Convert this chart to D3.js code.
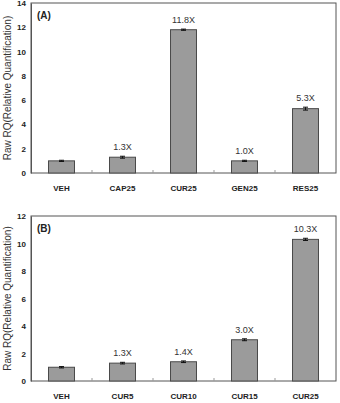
<!DOCTYPE html>
<html>
<head>
<meta charset="utf-8">
<script src="https://cdn.jsdelivr.net/npm/d3@7"></script>
<style>
  body { margin: 0; background: #fff; }
  svg { display: block; }
  .tick text { font-family: Arial, "Liberation Sans", sans-serif; font-weight: bold; font-size: 8px; fill: #222; }
  .cat { font-family: "Liberation Sans Narrow", "Arial Narrow", Arial, sans-serif; font-weight: bold; font-size: 8px; fill: #222; }
  .val { font-family: Arial, "Liberation Sans", sans-serif; font-size: 9px; fill: #333; }
  .ylab { font-family: Arial, "Liberation Sans", sans-serif; font-size: 10px; fill: #333; }
  .plabel { font-family: Arial, "Liberation Sans", sans-serif; font-weight: bold; font-size: 10px; fill: #222; }
</style>
</head>
<body>
<svg width="340" height="403"></svg>
<script>
// Panel A data
var catsA = ['VEH', 'CAP25', 'CUR25', 'GEN25', 'RES25']
var valsA = [1.0, 1.3, 11.8, 1.0, 5.3]
var errA = [0.05, 0.08, 0.05, 0.05, 0.12]
var labelsA = ['', '1.3X', '11.8X', '1.0X', '5.3X']
var ticksA = [0, 2, 4, 6, 8, 10, 12, 14]

// Panel B data
var catsB = ['VEH', 'CUR5', 'CUR10', 'CUR15', 'CUR25']
var valsB = [1.0, 1.3, 1.4, 3.0, 10.3]
var errB = [0.05, 0.06, 0.06, 0.07, 0.08]
var labelsB = ['', '1.3X', '1.4X', '3.0X', '10.3X']
var ticksB = [0, 2, 4, 6, 8, 10, 12]

var svg = d3.select('svg')

function drawPanel(cfg) {
  var g = svg.append('g')
  var x = d3.scaleBand().domain(cfg.cats).range([31, 336]).paddingInner(0.574).paddingOuter(0.287)
  var y = d3.scaleLinear().domain([0, cfg.max]).range([cfg.bottom, cfg.top])

  // frame
  g.append('rect')
    .attr('x', 31).attr('y', cfg.top)
    .attr('width', 305).attr('height', cfg.bottom - cfg.top)
    .attr('fill', 'none').attr('stroke', '#555').attr('stroke-width', 1)

  // y axis
  var yAxis = g.append('g')
    .attr('transform', 'translate(31,0)')
    .call(d3.axisLeft(y).tickValues(cfg.ticks).tickSize(0).tickPadding(5))
  yAxis.select('.domain').attr('stroke', '#555')

  // boundary ticks on x axis
  var step = x.step()
  g.selectAll('.btick')
    .data(cfg.cats.slice(1))
    .enter().append('line')
    .attr('x1', d => x(d) - (step - x.bandwidth()) / 2)
    .attr('x2', d => x(d) - (step - x.bandwidth()) / 2)
    .attr('y1', cfg.bottom).attr('y2', cfg.bottom - 3)
    .attr('stroke', '#999')

  // bars
  g.selectAll('.bar')
    .data(cfg.vals)
    .enter().append('rect')
    .attr('x', (d, i) => x(cfg.cats[i]))
    .attr('y', d => y(d))
    .attr('width', x.bandwidth())
    .attr('height', d => cfg.bottom - y(d))
    .attr('fill', '#9b9b9b')
    .attr('stroke', '#4a4a4a')
    .attr('stroke-width', 1)

  // error bars
  cfg.vals.forEach(function(v, i) {
    var cx = x(cfg.cats[i]) + x.bandwidth() / 2
    var e = cfg.err[i]
    g.append('line').attr('x1', cx).attr('x2', cx)
      .attr('y1', y(v - e)).attr('y2', y(v + e)).attr('stroke', '#111')
    g.append('line').attr('x1', cx - 2.5).attr('x2', cx + 2.5)
      .attr('y1', y(v + e)).attr('y2', y(v + e)).attr('stroke', '#111')
    g.append('line').attr('x1', cx - 2.5).attr('x2', cx + 2.5)
      .attr('y1', y(v - e)).attr('y2', y(v - e)).attr('stroke', '#111')
  })

  // value labels
  g.selectAll('.val')
    .data(cfg.labels)
    .enter().append('text')
    .attr('class', 'val')
    .attr('x', (d, i) => x(cfg.cats[i]) + x.bandwidth() / 2)
    .attr('y', (d, i) => y(cfg.vals[i] + cfg.err[i]) - 6)
    .attr('text-anchor', 'middle')
    .text(d => d)

  // category labels
  g.selectAll('.cat')
    .data(cfg.cats)
    .enter().append('text')
    .attr('class', 'cat')
    .attr('x', d => x(d) + x.bandwidth() / 2)
    .attr('y', cfg.bottom + 18)
    .attr('text-anchor', 'middle')
    .text(d => d)

  // panel label
  g.append('text').attr('class', 'plabel')
    .attr('x', 37).attr('y', cfg.top + 16)
    .text(cfg.name)

  // y axis title
  g.append('text').attr('class', 'ylab')
    .attr('transform', 'translate(11,' + (cfg.top + cfg.bottom) / 2 + ') rotate(-90)')
    .attr('text-anchor', 'middle')
    .text('Raw RQ(Relative Quantification)')
}

drawPanel({ cats: catsA, vals: valsA, err: errA, labels: labelsA, ticks: ticksA, max: 14, top: 3, bottom: 173, name: '(A)' })
drawPanel({ cats: catsB, vals: valsB, err: errB, labels: labelsB, ticks: ticksB, max: 12, top: 216, bottom: 381, name: '(B)' })
</script>
</body>
</html>
